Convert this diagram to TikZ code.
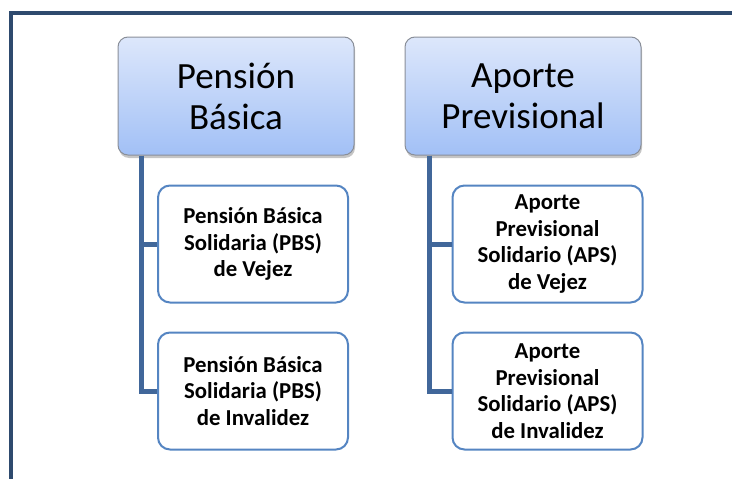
\documentclass[tikz,border=0pt]{standalone}
\usepackage{fontspec}
\setmainfont{Carlito}
\usetikzlibrary{shadows,calc}
\definecolor{framecol}{HTML}{2E4A6E}
\definecolor{linkcol}{HTML}{41679A}
\definecolor{childcol}{HTML}{5585C2}
\definecolor{topA}{HTML}{DDE7FB}
\definecolor{topB}{HTML}{A2C0F6}
\definecolor{topborder}{HTML}{8A8F99}
\tikzset{
  x=1pt,y=1pt,
  topbox/.style={draw=topborder, line width=1pt, rounded corners=10pt,
    top color=topA, bottom color=topB, minimum width=236pt, minimum height=118pt,
    drop shadow={shadow xshift=1pt, shadow yshift=-3pt, fill=black!45, opacity=0.5},
    align=center, font=\fontsize{37}{41}\selectfont, inner sep=0pt},
  childbox/.style={draw=childcol, line width=2pt, rounded corners=12pt, fill=white,
    minimum width=190pt, minimum height=117pt, align=center,
    font=\fontsize{22.8}{26.5}\selectfont\bfseries, inner sep=0pt},
  link/.style={draw=linkcol, line width=5pt}
}
\begin{document}
\begin{tikzpicture}
\useasboundingbox (0,0) rectangle (732,-479);
\draw[framecol, line width=3.5pt] (11,-479) -- (11,-13) -- (732,-13);

\node[topbox] (pb) at (236,-96) {Pensión\\Básica};
\node[topbox] (ap) at (523,-96) {Aporte\\Previsional};

\node[childbox] (c1) at (253,-244) {Pensión Básica\\Solidaria (PBS)\\de Vejez};
\node[childbox] (c2) at (253,-391) {Pensión Básica\\Solidaria (PBS)\\de Invalidez};
\node[childbox] (d1) at (547.5,-244) {Aporte\\Previsional\\Solidario (APS)\\de Vejez};
\node[childbox] (d2) at (547.5,-391) {Aporte\\Previsional\\Solidario (APS)\\de Invalidez};

\coordinate (pbr) at ($(pb.south west)+(24,0)$);
\coordinate (apr) at ($(ap.south west)+(25,0)$);
\draw[link] (pbr) |- (c2.west);
\draw[link] (pbr) |- (c1.west);
\draw[link] (apr) |- (d2.west);
\draw[link] (apr) |- (d1.west);
\end{tikzpicture}
\end{document}
